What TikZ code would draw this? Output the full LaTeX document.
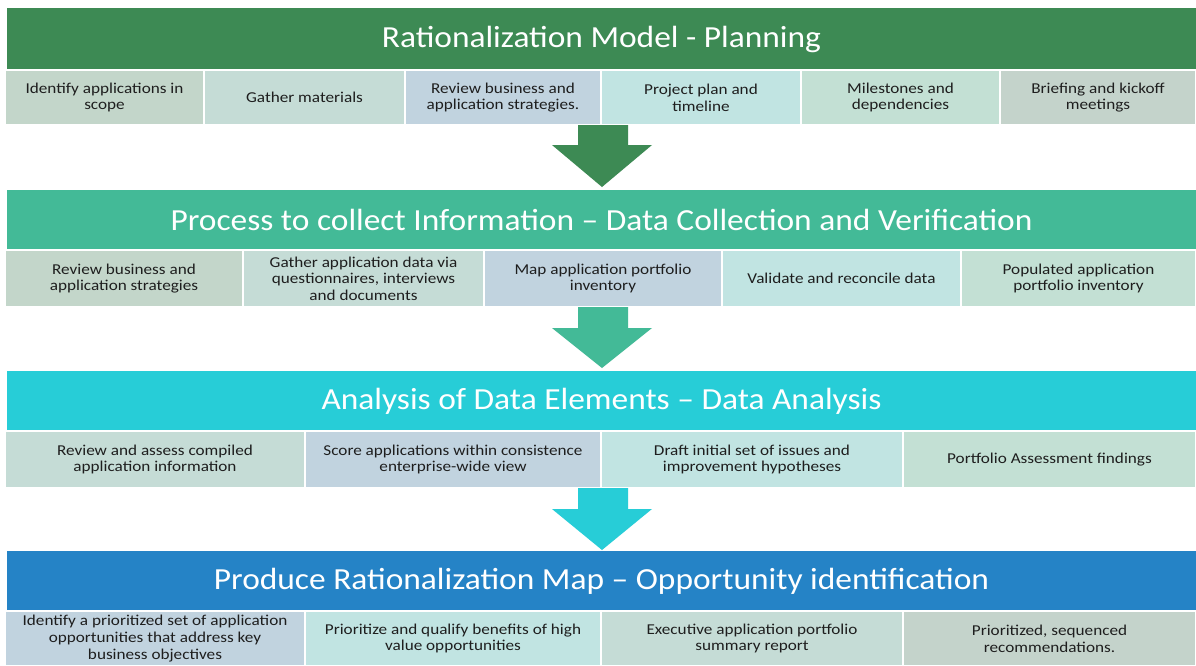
\documentclass[tikz,border=0pt]{standalone}
\usepackage{fontspec}
\setmainfont{Carlito}
\newfontfamily\cellfont[FakeStretch=1.14,Ligatures=TeX]{Carlito}
\newfontfamily\hdrfont[FakeStretch=1.09,Ligatures=TeX]{Carlito}
\definecolor{hA}{HTML}{3D8A54}
\definecolor{hB}{HTML}{43BA97}
\definecolor{hC}{HTML}{27CDD7}
\definecolor{hD}{HTML}{2583C6}
\definecolor{cA}{HTML}{C3D6CA}
\definecolor{cB}{HTML}{C5DCD6}
\definecolor{cC}{HTML}{C1D3DF}
\definecolor{cD}{HTML}{C1E4E2}
\definecolor{cE}{HTML}{C3E0D4}
\definecolor{cF}{HTML}{C4D3CB}
\definecolor{txt}{HTML}{1E1E1E}
\tikzset{
  hdr/.style={fill=#1, draw=none, inner sep=0pt, text=white, font=\hdrfont\fontsize{23}{27}\selectfont},
  cell/.style={fill=#1, draw=white, line width=0.8pt, inner sep=0pt, align=center, text=txt, font=\cellfont\fontsize{11.3}{12.5}\selectfont},
  blockarrow/.style={fill=#1, draw=none}
}
% \cellbox{name}{x1}{x2}{y1}{y2}{colour}{text}
\newcommand{\cellbox}[7]{%
  \pgfmathsetmacro{\cw}{(#3-#2)*0.75}%
  \pgfmathsetmacro{\ch}{(#5-#4)*0.75}%
  \node[cell=#6, minimum width=\cw pt, minimum height=\ch pt] (#1) at ({(#2+#3)/2},{(#4+#5)/2}) {#7};}
\newcommand{\hdrbox}[6]{%
  \pgfmathsetmacro{\cw}{(1196-7)*0.75}%
  \pgfmathsetmacro{\ch}{(#3-#2)*0.75}%
  \node[hdr=#4, minimum width=\cw pt, minimum height=\ch pt] (#1) at (601.5,{(#2+#3)/2}) {#5};}
\newcommand{\blockarr}[4]{% top, headstart, tip, colour
  \fill[blockarrow=#4] (578,#1) -- (628,#1) -- (628,#2) -- (652,#2) -- (602,#3) -- (552,#2) -- (578,#2) -- cycle;}
\begin{document}
\begin{tikzpicture}[x=0.75pt,y=-0.75pt]
\useasboundingbox[fill=white] (0,0) rectangle (1196,665);

% ---------- Section 1 ----------
\hdrbox{h1}{8}{70}{hA}{Rationalization Model - Planning}{}
\cellbox{a1}{5}{204}{70}{125}{cA}{Identify applications in\\scope}
\cellbox{a2}{204}{405}{70}{125}{cB}{Gather materials}
\cellbox{a3}{405}{601}{70}{125}{cC}{Review business and\\application strategies.}
\cellbox{a4}{601}{801}{70}{125}{cD}{Project plan and\\timeline}
\cellbox{a5}{801}{1000}{70}{125}{cE}{Milestones and\\dependencies}
\cellbox{a6}{1000}{1196}{70}{125}{cF}{Briefing and kickoff\\meetings}
\blockarr{125}{145}{187}{hA}

% ---------- Section 2 ----------
\hdrbox{h2}{190}{250}{hB}{Process to collect Information – Data Collection and Verification}{}
\cellbox{b1}{5}{243}{250}{307}{cA}{Review business and\\application strategies}
\cellbox{b2}{243}{484}{250}{307}{cB}{Gather application data via\\questionnaires, interviews\\and documents}
\cellbox{b3}{484}{722}{250}{307}{cC}{Map application portfolio\\inventory}
\cellbox{b4}{722}{961}{250}{307}{cD}{Validate and reconcile data}
\cellbox{b5}{961}{1196}{250}{307}{cE}{Populated application\\portfolio inventory}
\blockarr{307}{328}{368}{hB}

% ---------- Section 3 ----------
\hdrbox{h3}{371}{431}{hC}{Analysis of Data Elements – Data Analysis}{}
\cellbox{c1}{5}{305}{431}{488}{cB}{Review and assess compiled\\application information}
\cellbox{c2}{305}{601}{431}{488}{cC}{Score applications within consistence\\enterprise-wide view}
\cellbox{c3}{601}{903}{431}{488}{cD}{Draft initial set of issues and\\improvement hypotheses}
\cellbox{c4}{903}{1196}{431}{488}{cE}{Portfolio Assessment findings}
\blockarr{488}{509}{550}{hC}

% ---------- Section 4 ----------
\hdrbox{h4}{551}{611}{hD}{Produce Rationalization Map – Opportunity identification}{}
\cellbox{d1}{5}{305}{611}{666}{cC}{Identify a prioritized set of application\\opportunities that address key\\business objectives}
\cellbox{d2}{305}{601}{611}{666}{cD}{Prioritize and qualify benefits of high\\value opportunities}
\cellbox{d3}{601}{903}{611}{666}{cB}{Executive application portfolio\\summary report}
\cellbox{d4}{903}{1196}{611}{666}{cF}{Prioritized, sequenced\\recommendations.}
\end{tikzpicture}
\end{document}
